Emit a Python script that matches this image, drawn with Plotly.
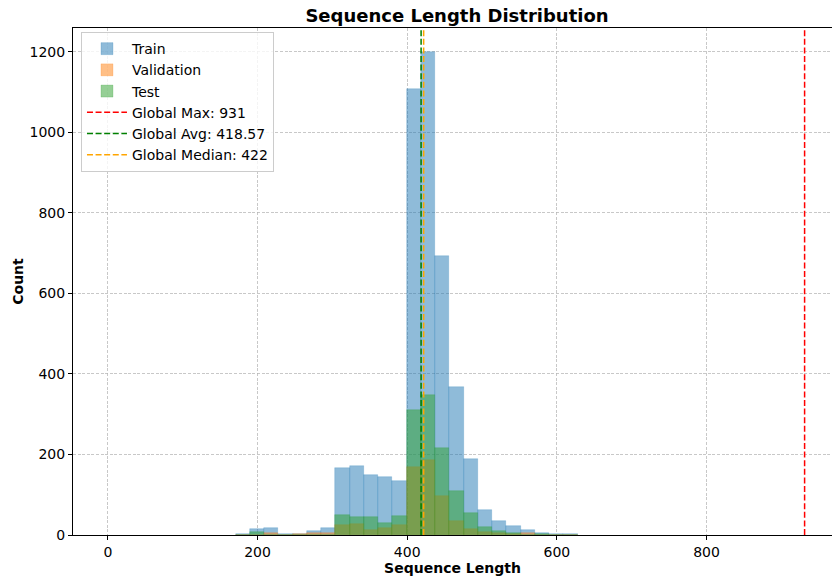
import plotly.graph_objects as go

# ---- data ----
bin_start = 170.6
bin_width = 19.04
train_counts = [3, 15, 18, 3, 2, 10, 17, 166, 171, 149, 144, 134, 1107, 1199,
                693, 367, 188, 62, 34, 22, 12, 5, 2, 2]
val_counts = [0, 1, 5, 0, 3, 4, 4, 24, 28, 13, 18, 24, 168, 187,
              97, 34, 14, 8, 4, 2, 5, 1, 0, 0]
test_counts = [0, 8, 0, 0, 0, 0, 0, 49, 44, 44, 29, 47, 310, 347,
               216, 109, 54, 19, 9, 4, 1, 2, 0, 0]
global_max = 931
global_avg = 418.57
global_median = 422
x_ticks = [0, 200, 400, 600, 800]
y_ticks = [0, 200, 400, 600, 800, 1000, 1200]

centers = [bin_start + bin_width * (i + 0.5) for i in range(len(train_counts))]

FONT = "DejaVu Sans"
fig = go.Figure()

series = [
    ("Train", train_counts, "rgba(31,119,180,0.5)", "rgba(31,119,180,0.35)"),
    ("Validation", val_counts, "rgba(255,127,14,0.5)", "rgba(255,127,14,0.35)"),
    ("Test", test_counts, "rgba(44,160,44,0.5)", "rgba(44,160,44,0.35)"),
]
for name, counts, col, edge in series:
    fig.add_trace(go.Bar(
        x=centers, y=counts, width=bin_width, name=name,
        marker=dict(color=col, line=dict(width=0.6, color=edge)),
    ))

lines = [
    (f"Global Max: {global_max}", global_max, "red"),
    (f"Global Avg: {global_avg}", global_avg, "green"),
    (f"Global Median: {global_median}", global_median, "orange"),
]
for name, v, col in lines:
    fig.add_trace(go.Scatter(
        x=[v, v], y=[0, 1], yaxis="y2", mode="lines", name=name,
        line=dict(color=col, width=1.5, dash="6px,2.6px"),
    ))

ymax = max(train_counts) * 1.05
xmin = -0.05 * global_max
xmax = xmin + 759 / 0.7484

grid = dict(showgrid=True, gridcolor="rgba(176,176,176,0.7)",
            griddash="3px,1.6px", gridwidth=0.8)

fig.update_layout(
    width=832, height=576,
    margin=dict(l=73, r=0, t=28, b=41),
    barmode="overlay",
    bargap=0,
    plot_bgcolor="white",
    paper_bgcolor="white",
    font=dict(family=FONT, size=14, color="black"),
    title=dict(
        text="<b>Sequence Length Distribution</b>",
        x=457 / 832, xref="container", xanchor="center",
        y=1 - 16 / 576, yref="container", yanchor="middle",
        font=dict(family=FONT, size=18, color="black"),
    ),
    xaxis=dict(
        range=[xmin, xmax],
        tickvals=x_ticks,
        showline=True, linecolor="black", linewidth=1, mirror=True,
        ticks="outside", ticklen=4, tickcolor="black",
        zeroline=False,
        title=dict(text="<b>Sequence Length</b>", standoff=3,
                   font=dict(family=FONT, size=14)),
        tickfont=dict(family=FONT, size=14),
        **grid,
    ),
    yaxis=dict(
        range=[0, ymax],
        tickvals=y_ticks,
        showline=True, linecolor="black", linewidth=1, mirror=False,
        ticks="outside", ticklen=4, tickcolor="black",
        zeroline=False,
        title=dict(text="<b>Count</b>", standoff=2,
                   font=dict(family=FONT, size=14)),
        tickfont=dict(family=FONT, size=14),
        **grid,
    ),
    yaxis2=dict(range=[0, 1], overlaying="y", visible=False, fixedrange=True),
    legend=dict(
        x=0.0105, y=0.992, xanchor="left", yanchor="top",
        bgcolor="rgba(255,255,255,0.8)", bordercolor="#cccccc", borderwidth=1,
        font=dict(family=FONT, size=14),
        tracegroupgap=0, itemwidth=40,
    ),
    showlegend=True,
)

fig.write_html("out.html")
